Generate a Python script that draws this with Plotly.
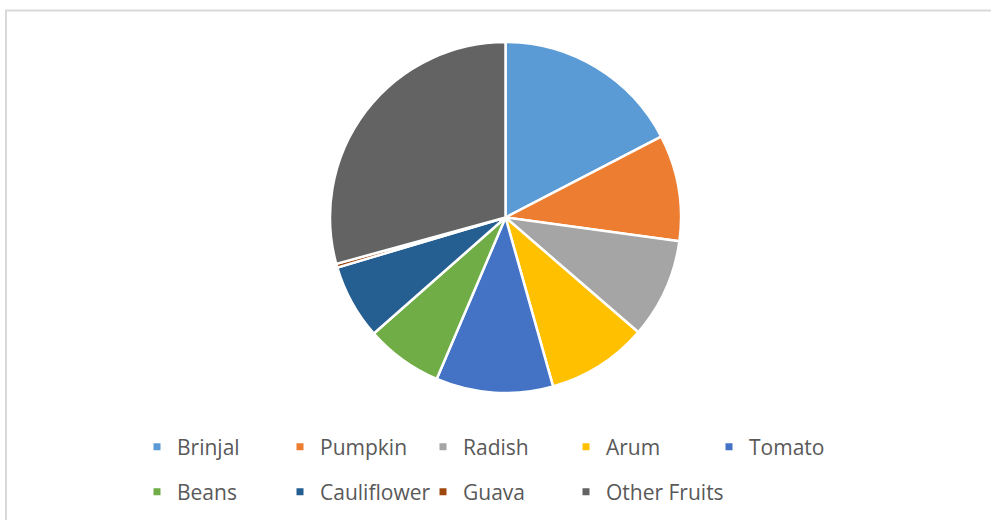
import plotly.graph_objects as go

# Share of produce by crop (percent)
crops = ["Brinjal", "Pumpkin", "Radish", "Arum", "Tomato",
         "Beans", "Cauliflower", "Guava", "Other Fruits"]
shares = [17.4, 9.8, 9.2, 9.3, 10.8, 7.1, 6.9, 0.35, 29.3]
colors = ["#5B9BD5", "#ED7D31", "#A5A5A5", "#FFC000", "#4472C4",
          "#70AD47", "#255E91", "#9E480E", "#636363"]

W, H = 991, 520
cx, cy, r = 505.5, 217.5, 175.5  # pie centre and radius in px

fig = go.Figure()
fig.add_trace(go.Pie(
    labels=crops, values=shares, sort=False, direction="clockwise",
    rotation=0, textinfo="none", hoverinfo="label+percent",
    marker=dict(colors=colors, line=dict(color="white", width=2.5)),
    showlegend=False,
    domain=dict(x=[(cx - r) / W, (cx + r) / W],
                y=[1 - (cy + r) / H, 1 - (cy - r) / H]),
))

# Legend entries: first five on the top row, the rest on the second row
for i, (name, col) in enumerate(zip(crops, colors)):
    fig.add_trace(go.Scatter(
        x=[None], y=[None], mode="markers", name=name,
        marker=dict(symbol="square", size=7, color=col),
        legend="legend" if i < 5 else "legend2", hoverinfo="skip",
        legendwidth=130 if i == len(crops) - 1 else None,
    ))

legend_style = dict(
    orientation="h", xanchor="left", yanchor="top",
    entrywidth=98, entrywidthmode="pixels",
    font=dict(family="Open Sans", size=21, color="#595959"),
    bgcolor="rgba(0,0,0,0)", borderwidth=0,
)

fig.update_layout(
    width=W, height=H, margin=dict(l=0, r=0, t=0, b=0),
    paper_bgcolor="white", plot_bgcolor="white",
    xaxis=dict(visible=False), yaxis=dict(visible=False),
    legend=dict(x=137 / W, y=1 - 426.5 / H, **legend_style),
    legend2=dict(x=137 / W, y=1 - 471.5 / H, **legend_style),
    shapes=[dict(type="rect", xref="paper", yref="paper",
                 x0=6 / W, x1=1.05, y0=-0.05, y1=1 - 10.5 / H,
                 line=dict(color="#D9D9D9", width=2))],
)

fig.write_html("out.html")
